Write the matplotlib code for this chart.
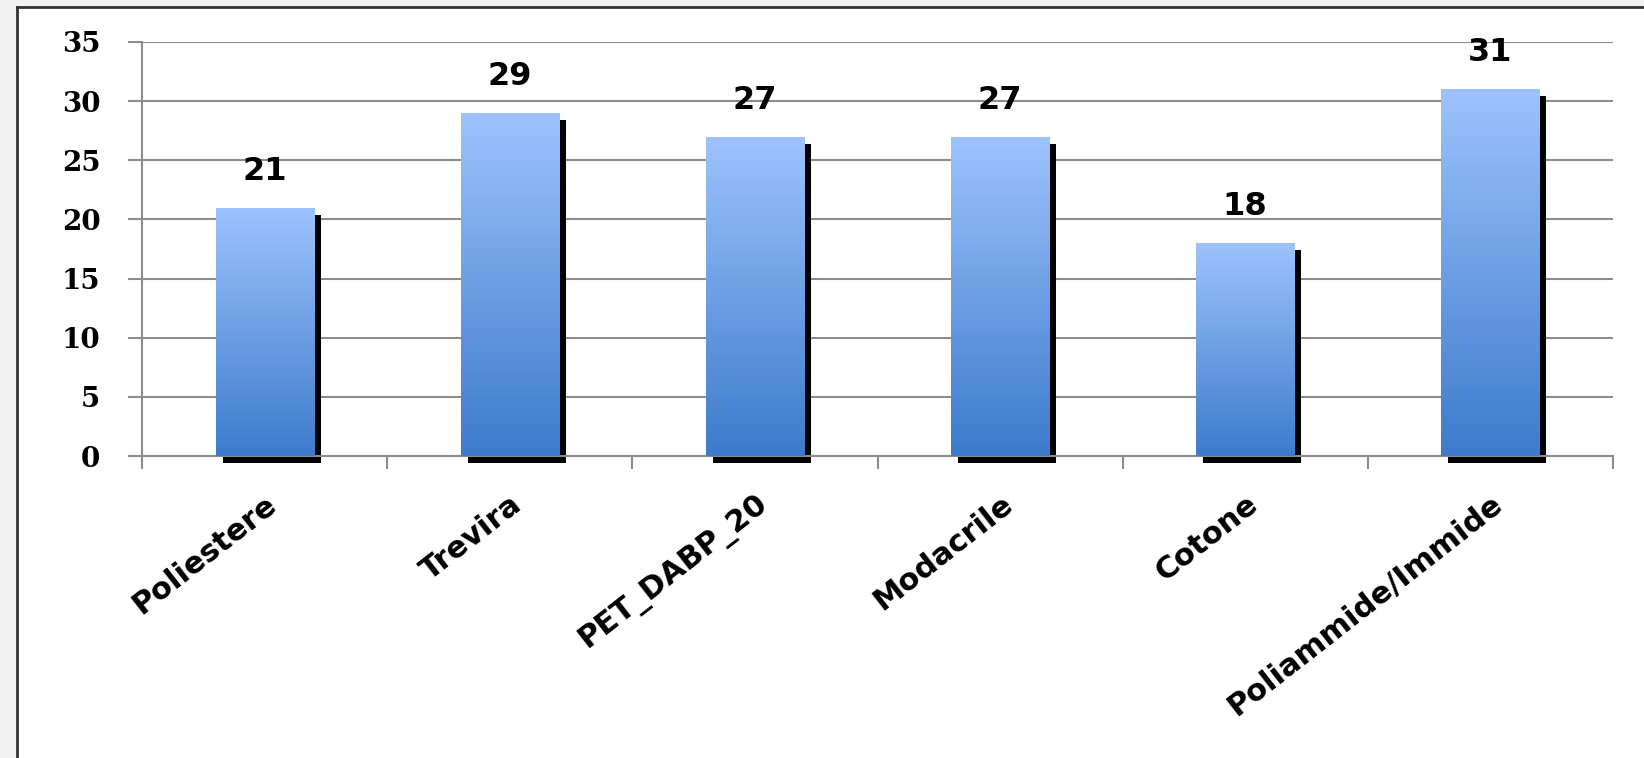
import numpy as np
import matplotlib
matplotlib.use("Agg")
import matplotlib.pyplot as plt
from matplotlib.transforms import ScaledTranslation
from matplotlib.patches import Rectangle
from matplotlib.lines import Line2D
from matplotlib.colors import LinearSegmentedColormap

categories = ["Poliestere", "Trevira", "PET_DABP_20", "Modacrile", "Cotone", "Poliammide/Immide"]
values = [21, 29, 27, 27, 18, 31]
yticks = [0, 5, 10, 15, 20, 25, 30, 35]

plt.rcParams['font.family'] = ['DejaVu Sans']

W, H, DPI = 1644, 758, 100
fig = plt.figure(figsize=(W / DPI, H / DPI), dpi=DPI)
fig.patch.set_facecolor('#f2f2f2')

# white chart frame
fx0, fy0 = 17 / W, 1 - 7 / H
fig.patches.append(Rectangle((fx0, 0), 1.2 - fx0, fy0, transform=fig.transFigure,
                             facecolor='white', edgecolor='none', zorder=-5))
fig.lines.append(Line2D([fx0, fx0], [0, fy0], transform=fig.transFigure, color='#333333', lw=2, zorder=-4))
fig.lines.append(Line2D([fx0, 1], [fy0, fy0], transform=fig.transFigure, color='#333333', lw=2, zorder=-4))

ax = fig.add_axes([142 / W, 1 - 456 / H, (1613 - 142) / W, (456 - 42) / H])
ax.set_zorder(5)
ax.set_facecolor('none')

x = np.arange(len(categories))
bw = 0.4

# gridlines
ax.set_yticks(yticks)
ax.yaxis.grid(True, color='#8c8c8c', lw=1.5)
ax.set_axisbelow(True)

# shadows
shadow_tr = ax.transData + ScaledTranslation(7 / DPI, -7 / DPI, fig.dpi_scale_trans)
ax.bar(x, values, bw, color='black', transform=shadow_tr, zorder=2, clip_on=False)

# gradient bars
cmap = LinearSegmentedColormap.from_list('g', ['#3d7bcb', '#9dc3fd'])
grad = np.linspace(0, 1, 256).reshape(-1, 1)
bars = ax.bar(x, values, bw, color='none', zorder=3)
for b in bars:
    x0, w, h = b.get_x(), b.get_width(), b.get_height()
    im = ax.imshow(grad, cmap=cmap, origin='lower', aspect='auto',
                   extent=[x0, x0 + w, 0, h], zorder=3)
    im.set_clip_path(b)
ax.set_xlim(-0.5, len(categories) - 0.5)
ax.set_ylim(0, 35)

for xi, v in zip(x, values):
    ax.annotate(str(v), (xi, v), xytext=(0, 15), textcoords='offset points',
                ha='center', va='bottom', fontsize=23, fontweight='bold', color='black')

for s in ['top', 'right']:
    ax.spines[s].set_visible(False)
for s in ['left', 'bottom']:
    ax.spines[s].set_color('#8c8c8c')
    ax.spines[s].set_linewidth(1.5)

ax.tick_params(axis='y', length=10, width=1.5, color='#8c8c8c', pad=20, labelsize=20)
for lab in ax.get_yticklabels():
    lab.set_family('DejaVu Serif')
    lab.set_fontweight('bold')
ax.set_xticks(x)
ax.set_xticklabels(categories, rotation=38, ha='right', rotation_mode='anchor',
                   fontsize=22, fontweight='bold')
ax.tick_params(axis='x', which='major', length=0, pad=24)
ax.set_xticks(np.arange(-0.5, len(categories)), minor=True)
ax.tick_params(axis='x', which='minor', length=9, width=1.5, color='#8c8c8c')

fig.savefig('out.png', dpi=DPI)
